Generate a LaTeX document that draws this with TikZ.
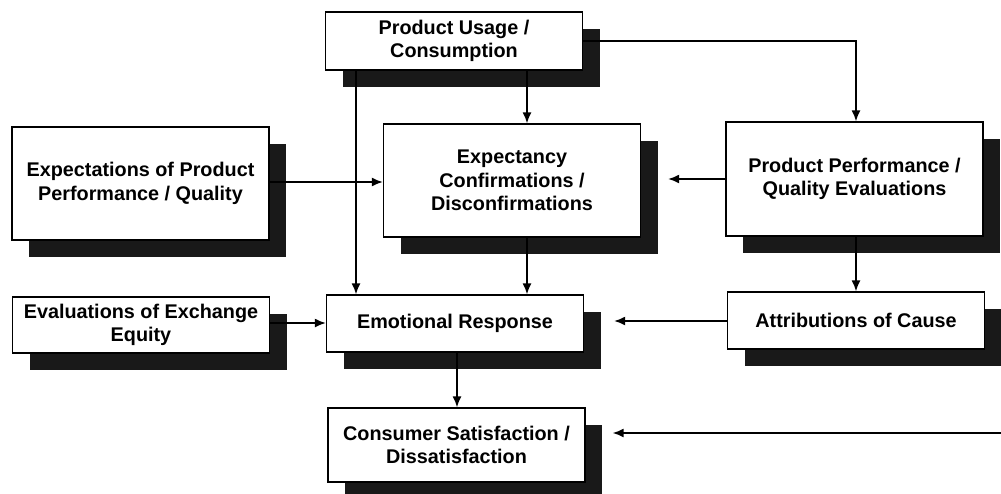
\documentclass[tikz,border=0pt]{standalone}
\usepackage{fontspec}
\setmainfont{Liberation Sans}
\usetikzlibrary{shadows,calc,arrows.meta}

\tikzset{
	block/.style={draw=black, line width=1.2pt, fill=white, align=center, inner sep=0pt,
		minimum width=257pt, font=\fontsize{19.8}{23.5}\selectfont\bfseries,
		drop shadow={shadow xshift=17pt, shadow yshift=-17pt, opacity=1, fill=black!90}},
	flow/.style={line width=1.8pt, -{Latex[length=11pt,width=9pt]}}
}

\begin{document}
\begin{tikzpicture}[x=1pt, y=-1pt]
	\useasboundingbox (0,0) rectangle (1001,493);
	\node (usage) at (454, 41) [block, minimum height=58pt] {Product Usage /\\Consumption};
	\node (expect) at (140.5, 183.5) [block, minimum height=113pt] {Expectations of Product\\Performance / Quality};
	\node (confirm) at (512, 180.5) [block, minimum height=113pt] {Expectancy\\Confirmations /\\Disconfirmations};
	\node (perf) at (854.5, 179) [block, minimum height=114pt] {Product Performance /\\Quality Evaluations};
	\node (equity) at (141, 325) [block, minimum height=56pt] {Evaluations of Exchange\\Equity};
	\node (emotion) at (455, 323.5) [block, minimum height=57pt] {Emotional Response};
	\node (cause) at (856, 320.5) [block, minimum height=57pt] {Attributions of Cause};
	\node (satisf) at (456.5, 445) [block, minimum height=74pt] {Consumer Satisfaction /\\Dissatisfaction};

	% rows and columns of the connectors
	\coordinate (ux) at (356, 0);
	\coordinate (cx) at (527, 0);
	\coordinate (sx) at (457, 0);
	\coordinate (ey) at (0, 182);
	\coordinate (qy) at (0, 323);
	\coordinate (ay) at (0, 321);
	\coordinate (inflow) at (1001, 433);

	\draw[flow] (usage.east) -| (perf.north -| 856,0);
	\draw[flow] (usage.south -| cx) -- (confirm.north -| cx);
	\draw[flow] (usage.south -| ux) -- (emotion.north -| ux);
	\draw[flow] (expect.east |- ey) -- (confirm.west |- ey);
	\draw[flow] (perf.west) -- ($(confirm.east |- perf.west)+(27,0)$);
	\draw[flow] (perf.south -| 856,0) -- (cause.north -| 856,0);
	\draw[flow] (confirm.south -| cx) -- (emotion.north -| cx);
	\draw[flow] (equity.east |- qy) -- (emotion.west |- qy);
	\draw[flow] (cause.west |- ay) -- ($(emotion.east |- ay)+(30,0)$);
	\draw[flow] (emotion.south -| sx) -- (satisf.north -| sx);
	\draw[flow] (inflow) -- ($(satisf.east |- inflow)+(27,0)$);
\end{tikzpicture}
\end{document}
